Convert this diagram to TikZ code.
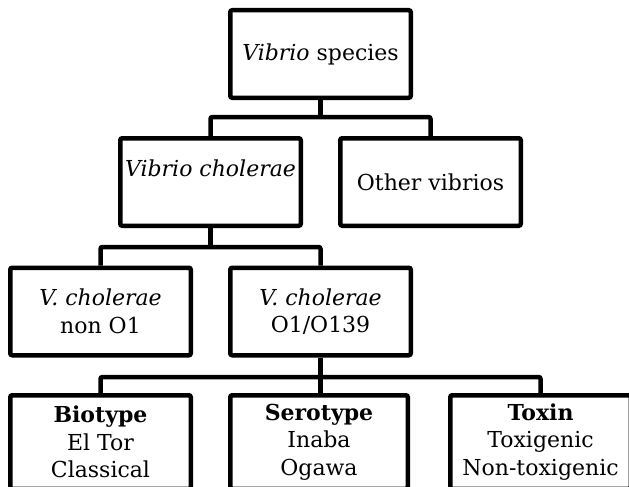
\documentclass[tikz,border=0pt]{standalone}
\usepackage{fontspec}
\setmainfont{DejaVu Serif}
\begin{document}
\begin{tikzpicture}[x=1pt,y=-1pt,
  box/.style={draw, line width=4.5pt, rounded corners=2pt, minimum width=180.5pt,
    minimum height=87.5pt, inner sep=0pt, align=center,
    font=\fontsize{22}{27.5}\selectfont},
  conn/.style={line width=4.5pt, rounded corners=2pt}]
\useasboundingbox (0,0) rectangle (629,487);
\clip (0,0) rectangle (629,487);
\node[box] (top) at (320.5,54) {\textit{Vibrio} species};
\node[box] (chol) at (210.5,182) {\textit{Vibrio cholerae}\\ \mbox{}};
\node[box] (other) at (430.5,182) {Other vibrios};
\node[box] (non) at (100.5,311.5) {\textit{V. cholerae}\\non O1};
\node[box] (o1) at (320.5,311.5) {\textit{V. cholerae}\\O1/O139};
\node[box, minimum height=93.5pt] (bio) at (100.5,442) {\textbf{Biotype}\\El Tor\\Classical};
\node[box, minimum height=93.5pt, minimum width=177.5pt] (sero) at (319,442) {\textbf{Serotype}\\Inaba\\Ogawa};
\node[box, minimum height=93.5pt] (tox) at (540.5,442) {\textbf{Toxin}\\Toxigenic\\Non-toxigenic};
\coordinate (b1) at (320.5,117);
\coordinate (b2) at (210.5,247);
\coordinate (b3) at (320.5,377);
\draw[conn] (top.south) -- (b1);
\draw[conn] (chol.north) |- (b1) -| (other.north);
\draw[conn] (chol.south) -- (b2);
\draw[conn] (non.north) |- (b2) -| (o1.north);
\draw[conn] (o1.south) -- (o1.south |- sero.north);
\draw[conn] (bio.north) |- (b3) -| (tox.north);
\end{tikzpicture}
\end{document}
